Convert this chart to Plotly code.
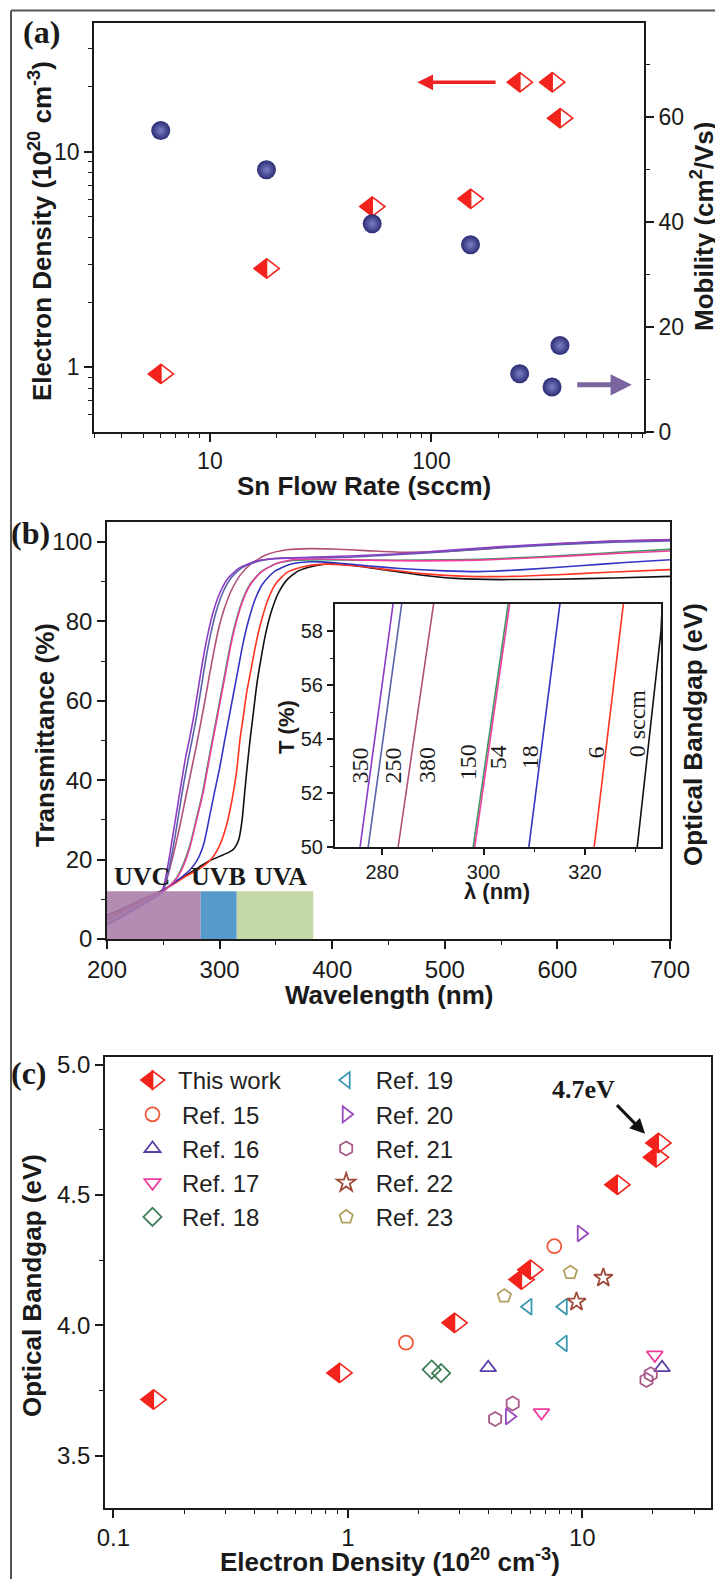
import plotly.graph_objects as go

W, H = 715, 1579


def px(x):
    return x / W


def py(y):
    return 1 - y / H


SANS = "Liberation Sans, Arial, sans-serif"
SERIF = "Liberation Serif, Times New Roman, serif"
INK = "#1a1a1a"
RED = "#f2231c"

# ---------------- Panel (a) data ----------------
sn_flow_rate = [6, 18, 54, 150, 250, 350, 380]
electron_density_a = [0.93, 2.87, 5.56, 6.04, 21.0, 21.0, 14.3]
mobility = [57.5, 50.0, 39.7, 35.7, 11.1, 8.6, 16.5]

# ---------------- Panel (b) data: transmittance spectra ----------------
wl_350 = [200, 210, 220, 230, 240, 248, 251, 255, 259, 263, 267, 270, 273, 277, 281, 285, 289, 294, 300, 308, 318, 333, 350, 380, 420, 460, 500, 550, 600, 650, 700]
t_350 = [3.5, 5.0, 6.7, 8.3, 10.0, 11.5, 14, 20, 27, 34, 41, 46, 50, 56, 63, 70, 76, 82, 87, 91, 93.5, 95.2, 95.8, 96.1, 96.5, 97.0, 97.8, 98.8, 99.6, 100.2, 100.5]
wl_250 = [200, 210, 220, 230, 240, 248, 252, 256, 260, 264, 268, 272, 275.5, 279.5, 283.5, 287.5, 291.5, 296.5, 302.5, 310.5, 320, 335, 355, 380, 420, 460, 500, 550, 600, 650, 700]
t_250 = [4.0, 5.4, 7.0, 8.6, 10.2, 11.6, 14, 19, 25, 32, 39, 45, 50, 56, 63, 70, 76, 82, 87, 91, 93.5, 95.2, 95.9, 96.0, 96.2, 96.8, 97.5, 98.5, 99.3, 99.9, 100.2]
wl_380 = [200, 210, 220, 230, 240, 248, 252, 256, 260, 264, 268, 272, 276, 280, 283, 287, 291, 295, 299, 304, 310, 318, 328, 342, 360, 380, 400, 430, 460, 500, 550, 600, 650, 700]
t_380 = [3.8, 5.2, 6.9, 8.5, 10.1, 11.6, 14, 18, 22.5, 27.5, 33, 38.5, 44, 49.5, 54, 60, 66.5, 72.5, 78, 83, 87.5, 91.5, 94.5, 96.8, 98.0, 98.3, 98.2, 97.8, 97.4, 97.6, 98.5, 99.5, 100.2, 100.6]
wl_150 = [200, 210, 220, 230, 240, 250, 256, 262, 268, 274, 280, 285, 289.5, 293.5, 297.5, 301.5, 305.5, 309.5, 314.5, 320.5, 327.5, 337, 350, 365, 390, 430, 480, 530, 580, 620, 660, 700]
t_150 = [4.5, 6.0, 7.5, 9.0, 10.5, 12, 13.5, 15.5, 19, 24, 31, 37, 44, 50, 56, 62, 68, 74, 80, 85.5, 89.5, 92.5, 94.5, 95.3, 95.5, 95.4, 95.4, 95.6, 96.2, 96.8, 97.5, 98.1]
wl_54 = [200, 210, 220, 230, 240, 250, 256, 262, 268, 274, 280, 285.5, 290, 294, 298, 302, 306, 310, 315, 321, 328, 337.5, 350, 365, 390, 430, 480, 530, 580, 620, 660, 700]
t_54 = [4.8, 6.2, 7.7, 9.2, 10.6, 12, 13.5, 15.3, 18.5, 23.5, 30.5, 37, 44, 50, 56, 62, 68, 74, 80, 85.5, 89.5, 92.5, 94.5, 95.5, 95.7, 95.4, 95.2, 95.4, 96.0, 96.6, 97.2, 97.7]
wl_18 = [200, 210, 220, 230, 240, 250, 258, 266, 274, 280, 286, 290.5, 295.5, 300, 304.5, 308.5, 312.5, 316.5, 320.5, 325.5, 331.5, 338.5, 348.5, 362, 380, 400, 430, 460, 500, 530, 570, 620, 660, 700]
t_18 = [5.0, 6.4, 7.9, 9.4, 10.8, 12.2, 13.8, 15.5, 17.5, 19.8, 24, 30, 37, 43, 50, 56, 62, 68, 74, 80, 85.5, 89.5, 92.5, 94.3, 95.0, 94.8, 94.0, 93.3, 92.7, 92.5, 93.0, 94.0, 94.8, 95.5]
wl_6 = [200, 210, 220, 230, 240, 250, 260, 270, 280, 288, 294, 300, 306, 311, 315, 318, 321, 324, 328, 332, 337, 343, 350, 360, 375, 395, 420, 450, 480, 520, 560, 600, 640, 700]
t_6 = [5.5, 6.8, 8.2, 9.6, 11.0, 12.3, 14.0, 15.8, 17.3, 18.9, 20.6, 23.5, 28.5, 35, 42, 50, 56, 62, 68, 74, 80, 85.5, 89.5, 92.3, 93.8, 94.4, 94.0, 93.0, 92.0, 91.3, 91.3, 91.7, 92.3, 93.0]
wl_0 = [200, 210, 220, 230, 240, 250, 260, 270, 280, 290, 300, 308, 313, 317, 320, 322, 324, 327, 330, 333, 337, 341, 346, 352, 360, 370, 385, 400, 420, 450, 480, 510, 550, 600, 650, 700]
t_0 = [6.0, 7.2, 8.5, 9.8, 11.1, 12.4, 14.2, 16.0, 17.8, 19.5, 20.8, 21.8, 22.8, 25, 30, 36, 42, 50, 57, 64, 71, 77, 82.5, 87, 90.5, 92.7, 94.0, 94.5, 94.0, 92.8, 91.6, 90.8, 90.5, 90.6, 90.9, 91.3]

# inset: zoomed absorption edges
inset_t = [49.8, 59.2]
inset_wl_350 = [275.5, 282.3]
inset_wl_250 = [277.1, 284.0]
inset_wl_380 = [283.0, 290.3]
inset_wl_150 = [297.8, 305.0]
inset_wl_54 = [298.1, 305.3]
inset_wl_18 = [308.8, 315.2]
inset_wl_6 = [321.7, 327.7]
inset_t_0 = [49.8, 58.0, 59.2]
inset_wl_0 = [330.2, 335.0, 335.3]

# UV bands (nm) and their height (%)
uv_names = ["UVC", "UVB", "UVA"]
uv_start = [200, 283.2, 315.2]
uv_end = [283.2, 315.2, 383.2]
uv_top = 12
uv_colors = ["#a87ca8", "#3f8cc4", "#bdd39c"]

# ---------------- Panel (c) data ----------------
this_work_n = [0.148, 0.92, 2.85, 5.5, 6.0, 14.1, 20.6, 21.1]
this_work_eg = [3.715, 3.817, 4.009, 4.175, 4.213, 4.539, 4.644, 4.699]
ref15_n = [1.77, 7.6]
ref15_eg = [3.933, 4.303]
ref16_n = [3.97, 21.9]
ref16_eg = [3.837, 3.837]
ref17_n = [6.7, 20.4]
ref17_eg = [3.665, 3.886]
ref18_n = [2.28, 2.5]
ref18_eg = [3.830, 3.816]
ref19_n = [5.87, 8.3, 8.3]
ref19_eg = [4.071, 4.071, 3.930]
ref20_n = [9.9, 4.89]
ref20_eg = [4.352, 3.650]
ref21_n = [4.25, 5.05, 18.8, 19.6]
ref21_eg = [3.640, 3.700, 3.790, 3.812]
ref22_n = [9.45, 12.3]
ref22_eg = [4.090, 4.182]
ref23_n = [4.65, 8.9]
ref23_eg = [4.112, 4.202]

fig = go.Figure()

DIAMOND_SIZE = 17


def half_diamond(x, y, xa, ya, size):
    # right (open) half and left (filled) half of a diamond
    fig.add_trace(go.Scatter(
        x=x, y=y, xaxis=xa, yaxis=ya, mode="markers", showlegend=False,
        marker=dict(symbol="triangle-down-open", angle=-90, standoff=size / 4, size=size,
                    color=RED, line=dict(color=RED, width=1.6)),
        hoverinfo="skip"))
    fig.add_trace(go.Scatter(
        x=x, y=y, xaxis=xa, yaxis=ya, mode="markers", showlegend=False,
        marker=dict(symbol="triangle-down", angle=90, standoff=size / 4, size=size,
                    color=RED, line=dict(color=RED, width=1.2)),
        hoverinfo="skip"))


# ---- panel (a) traces ----
half_diamond(sn_flow_rate, electron_density_a, "x", "y", DIAMOND_SIZE)
fig.add_trace(go.Scatter(
    x=sn_flow_rate, y=mobility, xaxis="x", yaxis="y2", mode="markers", showlegend=False,
    marker=dict(symbol="circle", size=19, color="#2a2c74",
                gradient=dict(type="radial", color="#7c80c4"), line=dict(width=0)),
    hoverinfo="skip"))

# ---- panel (b) traces ----
spectra = [
    (wl_0, t_0, "#111111"),
    (wl_6, t_6, "#ff3320"),
    (wl_18, t_18, "#3434c4"),
    (wl_150, t_150, "#3a9a5e"),
    (wl_54, t_54, "#ee3fa0"),
    (wl_380, t_380, "#b0507a"),
    (wl_250, t_250, "#5a62aa"),
    (wl_350, t_350, "#8c3cc4"),
]
for wl, t, c in spectra:
    fig.add_trace(go.Scatter(x=wl, y=t, xaxis="x2", yaxis="y3", mode="lines",
                             line=dict(color=c, width=1.6, shape="spline", smoothing=0.6),
                             showlegend=False, hoverinfo="skip"))

inset_lines = [
    (inset_wl_350, inset_t, "#8c3cc4"),
    (inset_wl_250, inset_t, "#5a62aa"),
    (inset_wl_380, inset_t, "#b0507a"),
    (inset_wl_150, inset_t, "#3a9a5e"),
    (inset_wl_54, inset_t, "#ee3fa0"),
    (inset_wl_18, inset_t, "#3434c4"),
    (inset_wl_6, inset_t, "#ff3320"),
    (inset_wl_0, inset_t_0, "#111111"),
]
for wl, t, c in inset_lines:
    fig.add_trace(go.Scatter(x=wl, y=t, xaxis="x3", yaxis="y4", mode="lines",
                             line=dict(color=c, width=1.6), showlegend=False, hoverinfo="skip"))

# ---- panel (c) traces ----
half_diamond(this_work_n, this_work_eg, "x4", "y5", DIAMOND_SIZE)

# legend-only entries forming the half-filled diamond of "This work"
fig.add_trace(go.Scatter(x=[None], y=[None], xaxis="x4", yaxis="y5", mode="markers", name="This work",
                         legend="legend4", showlegend=True,
                         marker=dict(symbol="triangle-left", size=16, color=RED, line=dict(color=RED, width=1.2))))
fig.add_trace(go.Scatter(x=[None], y=[None], xaxis="x4", yaxis="y5", mode="markers", name="",
                         legend="legend3", showlegend=True,
                         marker=dict(symbol="triangle-right-open", size=16, color=RED, line=dict(color=RED, width=1.6))))

refs = [
    ("Ref. 15", ref15_n, ref15_eg, "circle-open", "#f0583a", "legend"),
    ("Ref. 16", ref16_n, ref16_eg, "triangle-up-open", "#5b3fa8", "legend"),
    ("Ref. 17", ref17_n, ref17_eg, "triangle-down-open", "#ee3a9a", "legend"),
    ("Ref. 18", ref18_n, ref18_eg, "diamond-open", "#3f7f5a", "legend"),
    ("Ref. 19", ref19_n, ref19_eg, "triangle-left-open", "#3a98b0", "legend2"),
    ("Ref. 20", ref20_n, ref20_eg, "triangle-right-open", "#9a4ac0", "legend2"),
    ("Ref. 21", ref21_n, ref21_eg, "hexagon-open", "#a85a88", "legend2"),
    ("Ref. 22", ref22_n, ref22_eg, "star-open", "#a04a3a", "legend2"),
    ("Ref. 23", ref23_n, ref23_eg, "pentagon-open", "#b0a060", "legend2"),
]
for name, xs, ys, sym, col, lg in refs:
    fig.add_trace(go.Scatter(x=xs, y=ys, xaxis="x4", yaxis="y5", mode="markers", name=name,
                             legend=lg, showlegend=True,
                             marker=dict(symbol=sym, size=14, color=col, line=dict(color=col, width=1.8)),
                             hoverinfo="skip"))

# ---------------- axes ----------------
tickfont = dict(family=SANS, size=23, color=INK)
base = dict(showline=True, linecolor=INK, linewidth=1.6, ticks="outside", tickcolor=INK,
            tickwidth=1.5, ticklen=8, showgrid=False, zeroline=False, tickfont=tickfont,
            automargin=False)


def minor(vals, ln=4):
    return dict(tickvals=vals, ticks="outside", ticklen=ln, tickwidth=1.2, tickcolor=INK, showgrid=False)


dec = [2, 3, 4, 5, 6, 7, 8, 9]
fig.update_layout(
    xaxis=dict(base, type="log", range=[0.477, 2.959], domain=[px(94), px(644)], anchor="y", mirror=True,
               tickvals=[10, 100], ticktext=["10", "100"],
               minor=minor([3, 4, 5, 6, 7, 8, 9] + [d * 10 for d in dec] + [d * 100 for d in dec])),
    yaxis=dict(base, type="log", range=[-0.301, 1.597], domain=[py(432), py(23)], anchor="x",
               tickvals=[1, 10], ticktext=["1", "10"],
               minor=minor([0.6, 0.7, 0.8, 0.9] + dec + [20, 30])),
    yaxis2=dict(base, overlaying="y", side="right", range=[0, 78], anchor="x",
                tickvals=[0, 20, 40, 60], minor=minor([10, 30, 50, 70])),
    xaxis2=dict(base, range=[200, 700], domain=[px(107), px(670)], anchor="y3", mirror=True,
                tickvals=[200, 300, 400, 500, 600, 700], minor=minor([250, 350, 450, 550, 650]),
                tickfont=dict(family=SANS, size=24, color=INK)),
    yaxis3=dict(base, range=[0, 105], domain=[py(939), py(522)], anchor="x2", mirror=True,
                tickvals=[0, 20, 40, 60, 80, 100], minor=minor([10, 30, 50, 70, 90]),
                tickfont=dict(family=SANS, size=24, color=INK)),
    xaxis3=dict(base, range=[270.7, 335], domain=[px(335), px(661)], anchor="y4", mirror=True,
                linewidth=2, ticklen=6, tickvals=[280, 300, 320], minor=minor([290, 310, 330], 3),
                tickfont=dict(family=SANS, size=20, color=INK)),
    yaxis4=dict(base, range=[50, 59], domain=[py(847), py(604)], anchor="x3", mirror=True,
                linewidth=2, ticklen=6, tickvals=[50, 52, 54, 56, 58], minor=minor([51, 53, 55, 57], 3),
                tickfont=dict(family=SANS, size=20, color=INK)),
    xaxis4=dict(base, type="log", range=[-1.036, 1.551], domain=[px(105), px(711.4)], anchor="y5", mirror=True,
                tickvals=[0.1, 1, 10], ticktext=["0.1", "1", "10"],
                minor=minor([d / 10 for d in dec] + dec + [20, 30]),
                tickfont=dict(family=SANS, size=24, color=INK)),
    yaxis5=dict(base, range=[3.30, 5.03], domain=[py(1507.7), py(1056.7)], anchor="x4", mirror=True,
                tickvals=[3.5, 4.0, 4.5, 5.0], ticktext=["3.5", "4.0", "4.5", "5.0"],
                minor=minor([3.75, 4.25, 4.75]),
                tickfont=dict(family=SANS, size=24, color=INK)),
)

# ---------------- legends (two columns; "This work" glyph from two overlaid halves) ----------------
LEG_FS = 24
ROW = LEG_FS * 1.3 + 3
legend_font = dict(family=SANS, size=LEG_FS, color="#222222")
leg_common = dict(xanchor="left", yanchor="top", bgcolor="rgba(0,0,0,0)", tracegroupgap=0, itemwidth=49)
LEG_TOP = 1058
fig.update_layout(
    legend4=dict(leg_common, x=px(119), y=py(LEG_TOP), font=legend_font),
    legend3=dict(leg_common, x=px(127), y=py(LEG_TOP), font=legend_font),
    legend=dict(leg_common, x=px(123), y=py(LEG_TOP + ROW), font=legend_font),
    legend2=dict(leg_common, x=px(316.7), y=py(LEG_TOP), font=legend_font),
)

# ---------------- shapes ----------------
shapes = []
for s, e, c in zip(uv_start, uv_end, uv_colors):
    shapes.append(dict(type="rect", xref="x2", yref="y3", x0=s, x1=e, y0=0, y1=uv_top,
                       fillcolor=c, opacity=0.88, line=dict(width=0), layer="above"))
shapes.append(dict(type="line", xref="paper", yref="paper", x0=px(11), x1=1.0, y0=py(10.5), y1=py(10.5),
                   line=dict(color="#555555", width=2)))
shapes.append(dict(type="line", xref="paper", yref="paper", x0=px(11), x1=px(11), y0=0, y1=py(10.5),
                   line=dict(color="#555555", width=2)))
fig.update_layout(shapes=shapes)

# ---------------- annotations ----------------
ann = []


def ptext(text, x, y, size=26, angle=0, family=SANS, bold=True, color=INK):
    ann.append(dict(text=f"<b>{text}</b>" if bold else text, x=px(x), y=py(y), xref="paper", yref="paper",
                    showarrow=False, textangle=angle, xanchor="center", yanchor="middle",
                    font=dict(family=family, size=size, color=color)))


ptext("(a)", 41, 32, size=32, family=SERIF)
ptext("(b)", 31, 533, size=32, family=SERIF)
ptext("(c)", 29, 1073, size=32, family=SERIF)

ptext("Electron Density (10<sup>20</sup> cm<sup>-3</sup>)", 40, 231, angle=-90)
ptext("Mobility (cm<sup>2</sup>/Vs)", 702, 227, angle=-90)
ptext("Sn Flow Rate (sccm)", 364, 486)
ptext("Transmittance (%)", 45, 735, angle=-90)
ptext("Wavelength (nm)", 389, 995)
ptext("Optical Bandgap (eV)", 693, 735, angle=-90)
ptext("Optical Bandgap (eV)", 32, 1286, angle=-90)
ptext("Electron Density (10<sup>20</sup> cm<sup>-3</sup>)", 390, 1560)
ptext("T (%)", 286, 727, size=22, angle=-90)
ptext("λ (nm)", 497, 892, size=22)

# arrows in (a)
ann.append(dict(x=1.936, y=1.322, ax=2.296, ay=1.322, xref="x", yref="y", axref="x", ayref="y",
                text="", showarrow=True, arrowhead=2, arrowsize=0.9, arrowwidth=3.5, arrowcolor="#ee2222"))
ann.append(dict(x=2.904, y=9.0, ax=2.651, ay=9.0, xref="x", yref="y2", axref="x", ayref="y2",
                text="", showarrow=True, arrowhead=2, arrowsize=0.85, arrowwidth=5, arrowcolor="#7b65a0"))

# UV labels
uv_label_x = [230.8, 298.8, 354.0]
for name, lx in zip(uv_names, uv_label_x):
    ann.append(dict(text=f"<b>{name}</b>", x=lx, y=15.8, xref="x2", yref="y3", showarrow=False,
                    font=dict(family=SERIF, size=26, color=INK)))

# inset labels
inset_label_text = ["350", "250", "380", "150", "54", "18", "6", "0 sccm"]
inset_label_x = [275.7, 282.2, 288.8, 297.0, 302.9, 309.2, 322.0, 330.2]
inset_label_y = [53.03, 53.03, 53.03, 53.15, 53.33, 53.33, 53.5, 54.57]
for t, lx, ly in zip(inset_label_text, inset_label_x, inset_label_y):
    ann.append(dict(text=t, x=lx, y=ly, xref="x3", yref="y4", showarrow=False, textangle=-90,
                    font=dict(family=SERIF, size=24, color=INK)))

# 4.7 eV callout in (c)
ann.append(dict(text="<b>4.7eV</b>", x=1.006, y=4.905, xref="x4", yref="y5", showarrow=False,
                font=dict(family=SERIF, size=26, color=INK)))
ann.append(dict(x=1.268, y=4.734, ax=1.142, ay=4.850, xref="x4", yref="y5", axref="x4", ayref="y5",
                text="", showarrow=True, arrowhead=2, arrowsize=1.0, arrowwidth=3, arrowcolor="#111111"))

fig.update_layout(annotations=ann)

fig.update_layout(width=W, height=H, margin=dict(l=0, r=0, t=0, b=0, pad=0),
                  paper_bgcolor="white", plot_bgcolor="white", showlegend=True)

fig.write_html("out.html", config={"displayModeBar": False},
               post_script="document.body.style.margin='0';")
